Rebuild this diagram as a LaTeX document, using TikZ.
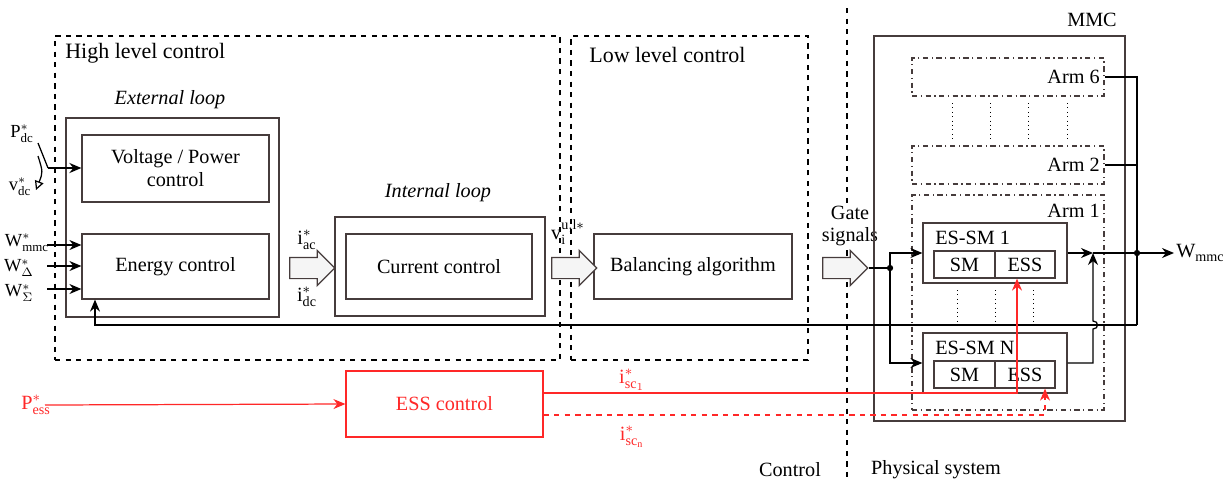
\documentclass[tikz,border=0pt]{standalone}
\usepackage{fontspec}
\setmainfont{Liberation Serif}
\usepackage{amsmath}
\usetikzlibrary{arrows.meta,positioning,shapes.arrows}
\definecolor{boxgray}{RGB}{70,60,60}
\definecolor{essred}{RGB}{255,40,40}
\definecolor{arrowfill}{RGB}{245,245,245}

\begin{document}
\begin{tikzpicture}[x=0.02cm, y=-0.02cm, line width=0.7pt,
  every node/.style={font=\fontsize{11.5}{13}\selectfont},
  blk/.style={draw=boxgray, inner sep=0pt, align=center},
  zone/.style={draw, dashed, inner sep=0pt},
  armbox/.style={draw=boxgray, dash dot, inner sep=0pt},
  bigarr/.style={single arrow, draw=boxgray, fill=arrowfill, inner xsep=0pt,
    inner ysep=0.2cm, minimum height=0.9cm, single arrow head extend=0.14cm},
  arr/.style={-{Stealth[length=2.4mm, width=2mm]}},
  zonetitle/.style={font=\fontsize{12.5}{14}\selectfont, inner sep=1pt},
  looptitle/.style={font=\fontsize{11.5}{13}\selectfont\itshape},
  sig/.style={font=\fontsize{11.5}{13}\selectfont, inner sep=1pt, align=center},
  insig/.style={font=\fontsize{10.5}{12}\selectfont, inner sep=0pt}]
\useasboundingbox (0,0) rectangle (1223,481);
% Control zones
\node[zone, minimum width=10.1cm, minimum height=6.48cm] (hlc) at (307.5,198) {};
\node[zonetitle, anchor=west] (hlct) at (63,53) {High level control};
\node[zone, minimum width=4.74cm, minimum height=6.48cm] (llc) at (689.5,198) {};
\node[zonetitle, anchor=west] (llct) at (587,55) {Low level control};
\draw[dashed] (847,8) -- (847,481);
\node[sig] (ctrl) at (790,470) {Control};
\node[sig] (phys) at (936,470) {Physical system};
% Loops
\node[blk, minimum width=4.26cm, minimum height=3.98cm] (ext) at (172.5,217.5) {};
\node[looptitle] (extt) at (170,100) {External loop};
\node[blk, minimum width=3.74cm, minimum height=1.34cm] (vpc) at (175.5,168.5) {Voltage / Power\\control};
\node[blk, minimum width=3.74cm, minimum height=1.3cm] (ec) at (175.5,266.5) {Energy control};
\node[blk, minimum width=4.2cm, minimum height=1.98cm] (int) at (440,266.5) {};
\node[looptitle] (intt) at (438,193) {Internal loop};
\node[blk, minimum width=3.72cm, minimum height=1.3cm] (cc) at (439,266.5) {Current control};
\node[blk, minimum width=3.96cm, minimum height=1.3cm] (bal) at (693,266.5) {Balancing algorithm};
% Hollow arrows
\node[bigarr] (a1) at (307,268) {};
\node[bigarr] (a2) at (569,268) {};
\node[bigarr] (a3) at (840,268) {};
\node[sig] (iac) at (307,240) {$\mathrm{i}^*_{\mathrm{ac}}$};
\node[sig] (idc) at (307,297) {$\mathrm{i}^*_{\mathrm{dc}}$};
\node[sig] (vul) at (568,232) {$\mathrm{v}^{\mathrm{u,l}*}_{\mathrm{i}}$};
\node[sig, font=\fontsize{11.5}{12}\selectfont, inner sep=0pt, fill=white] (gate) at (850,226) {Gate\\signals};
% MMC
\node[blk, minimum width=5.02cm, minimum height=7.7cm] (mmc) at (999.5,228.5) {};
\node[sig] (mmct) at (1092,20) {MMC};
\node[armbox, minimum width=3.84cm, minimum height=0.76cm] (arm6) at (1008,77) {};
\node[sig, anchor=east] (arm6t) at (1102,77) {Arm 6};
\node[armbox, minimum width=3.84cm, minimum height=0.76cm] (arm2) at (1008,165) {};
\node[sig, anchor=east] (arm2t) at (1102,165) {Arm 2};
\node[armbox, minimum width=3.84cm, minimum height=4.3cm] (arm1) at (1008,302.5) {};
\node[sig, anchor=east] (arm1t) at (1102,211) {Arm 1};
\foreach \x in {952,990,1028,1067}
  \draw[dotted, line width=0.5pt] (\x,103) -- (\x,140);
% Submodules
\node[blk, minimum width=2.88cm, minimum height=1.2cm] (sm1box) at (995,253) {};
\node[sig, anchor=west] (sm1t) at (933,238) {ES-SM 1};
\node[blk, minimum width=1.22cm, minimum height=0.54cm] (sm1) at (964.5,264.5) {SM};
\node[blk, minimum width=1.2cm, minimum height=0.54cm] (ess1) at (1025,264.5) {ESS};
\node[blk, minimum width=2.88cm, minimum height=1.2cm] (smNbox) at (995,363) {};
\node[sig, anchor=west] (smNt) at (933,348) {ES-SM N};
\node[blk, minimum width=1.22cm, minimum height=0.54cm] (smN) at (964.5,374.5) {SM};
\node[blk, minimum width=1.2cm, minimum height=0.54cm] (essN) at (1025,374.5) {ESS};
\foreach \x in {957,995,1033}
  \draw[dotted, line width=0.5pt] (\x,290) -- (\x,327);
% Inputs
\node[insig] (pdc) at (22,134) {$\mathrm{P}^*_{\mathrm{dc}}$};
\node[insig] (vdc) at (20,187) {$\mathrm{v}^*_{\mathrm{dc}}$};
\node[insig] (wmmc) at (27,243) {$\mathrm{W}^*_{\mathrm{mmc}}$};
\node[insig] (wdel) at (19,268) {$\mathrm{W}^*_{\Delta}$};
\node[insig] (wsig) at (19,293) {$\mathrm{W}^*_{\Sigma}$};
\coordinate (pdcin) at (38,143);
\coordinate (sw) at (48,168);
\draw (pdcin) -- (sw);
\draw[arr, line width=1.4pt] (sw) -- (sw -| vpc.west);
\draw[-{Triangle[open, length=1.8mm, width=1.8mm]}] (38,156) .. controls (43,172) .. (36,190);
\foreach \y [count=\i] in {245,266,289} {
  \coordinate (win\i) at (47,\y);
  \draw[arr] (win\i) -- (win\i -| ec.west);
}
% Gate signals
\coordinate (gj) at (890,268);
\draw (a3.east) -- (gj);
\fill (gj) circle[radius=1.8pt];
\draw[arr] (gj) |- (sm1box.west);
\draw[arr] (gj) |- (smNbox.west);
% Outputs and feedback
\coordinate (oj) at (1093,253);
\coordinate (wj) at (1137,253);
\coordinate (fb) at (1137,325);
\coordinate (fbl) at (95,325);
\node[sig, anchor=west] (wout) at (1174,253) {$\mathrm{W}_{\mathrm{mmc}}$};
\draw[arr] (sm1box.east) -- (oj);
\draw[arr] (smNbox.east) -| (1093,329) .. controls (1099,329) and (1099,321) .. (1093,321) -- (oj);
\draw (oj) -- (wj);
\fill (wj) circle[radius=1.8pt];
\draw[arr] (wj) -- (wout.west);
\draw (arm6.east) -| (fb);
\draw (arm2.east) -- (arm2.east -| fb);
\draw[arr] (fb) -- (fbl) -- (fbl |- ec.south);
% ESS control
\node[blk, draw=essred, text=essred, minimum width=3.94cm, minimum height=1.32cm] (essc) at (444.5,404) {ESS control};
\node[sig, text=essred] (pess) at (36,405) {$\mathrm{P}^*_{\mathrm{ess}}$};
\coordinate (pin) at (45,405);
\draw[arr, essred] (pin) -- (essc.west);
\coordinate (r1) at (1017,393);
\coordinate (r2) at (1045,415);
\draw[arr, essred] (essc.east |- r1) -- (r1) -- (r1 |- ess1.south);
\draw[arr, essred, dashed] (essc.east |- r2) -- (r2) -- (r2 |- essN.south);
\node[sig, text=essred] (isc1) at (632,380) {$\mathrm{i}^*_{\mathrm{sc}_1}$};
\node[sig, text=essred] (iscn) at (632,437) {$\mathrm{i}^*_{\mathrm{sc}_{\mathrm{n}}}$};
\end{tikzpicture}
\end{document}
